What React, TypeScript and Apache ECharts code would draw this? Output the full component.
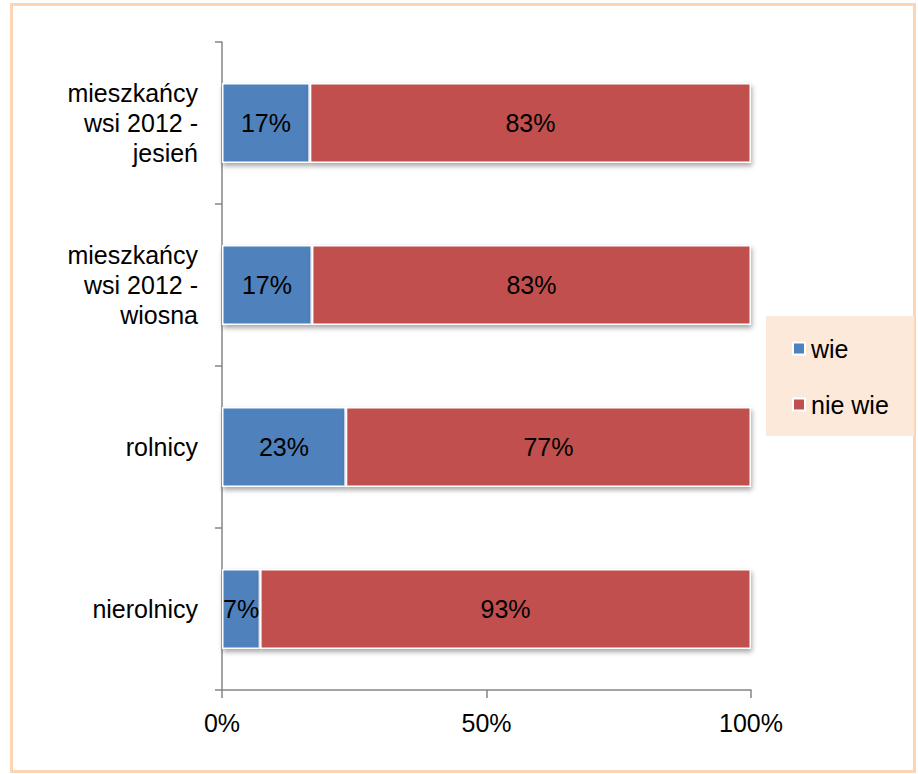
import React, { useEffect, useRef } from "react";
import * as echarts from "echarts";

const categories = [
  "mieszkańcy\nwsi 2012 -\njesień",
  "mieszkańcy\nwsi 2012 -\nwiosna",
  "rolnicy",
  "nierolnicy",
];
const wie = [16.6, 17.0, 23.4, 7.2];
const nieWie = [83.4, 83.0, 76.6, 92.8];
const xTicks = [0, 50, 100];

const FONT = "'Liberation Sans', Arial, sans-serif";
const FS = 25;

export default function App() {
  const ref = useRef<HTMLDivElement>(null);
  useEffect(() => {
    const chart = echarts.init(ref.current!, null, { renderer: "svg" });
    const barStyle = (color: string) => ({
      color,
      borderColor: "#ffffff",
      borderWidth: 1.5,
      shadowColor: "rgba(0,0,0,0.35)",
      shadowBlur: 5,
      shadowOffsetY: 3,
      shadowOffsetX: 1,
    });
    const label = {
      show: true,
      position: "inside" as const,
      color: "#000",
      fontSize: FS,
      fontFamily: FONT,
      formatter: (p: any) => Math.round(p.value) + "%",
    };
    chart.setOption({
      animation: false,
      backgroundColor: "#ffffff",
      textStyle: { fontFamily: FONT },
      grid: { left: 222, top: 42, width: 529, height: 648 },
      graphic: [
        {
          type: "rect",
          shape: { x: 11.5, y: 4.5, width: 903, height: 767 },
          style: { fill: "none", stroke: "#FCD5B4", lineWidth: 3 },
          z: 0,
        },
        {
          type: "rect",
          shape: { x: 766, y: 316, width: 148, height: 120 },
          style: { fill: "#FDE9D9" },
          z: 0,
        },
      ],
      legend: {
        orient: "vertical",
        left: 787,
        top: 331,
        itemWidth: 12,
        itemHeight: 12,
        itemGap: 31,
        icon: "rect",
        textStyle: { fontSize: FS, color: "#000", fontFamily: FONT, padding: [0, 0, 0, 1] },
        data: ["wie", "nie wie"],
      },
      xAxis: {
        type: "value",
        min: 0,
        max: 100,
        interval: 50,
        splitLine: { show: false },
        axisLine: { show: true, lineStyle: { color: "#868686", width: 1.5 } },
        axisTick: { show: true, length: 8, lineStyle: { color: "#868686", width: 1.5 } },
        axisLabel: {
          fontSize: FS,
          color: "#000",
          fontFamily: FONT,
          margin: 20,
          formatter: (v: number) => (xTicks.includes(v) ? v + "%" : ""),
        },
      },
      yAxis: {
        type: "category",
        inverse: true,
        data: categories,
        axisLine: { show: true, lineStyle: { color: "#868686", width: 1.5 } },
        axisTick: { show: true, length: 7, lineStyle: { color: "#868686", width: 1.5 } },
        axisLabel: {
          fontSize: FS,
          color: "#000",
          fontFamily: FONT,
          margin: 24,
          lineHeight: 30,
          align: "right",
        },
      },
      series: [
        {
          name: "wie",
          type: "bar",
          stack: "s",
          barWidth: 80,
          data: wie,
          itemStyle: barStyle("#4F81BD"),
          label,
        },
        {
          name: "nie wie",
          type: "bar",
          stack: "s",
          barWidth: 80,
          data: nieWie,
          itemStyle: barStyle("#C0504D"),
          label,
        },
      ],
    });
    return () => chart.dispose();
  }, []);
  return (
    <div
      ref={ref}
      style={{ position: "absolute", left: 0, top: 0, width: 918, height: 774 }}
    />
  );
}
